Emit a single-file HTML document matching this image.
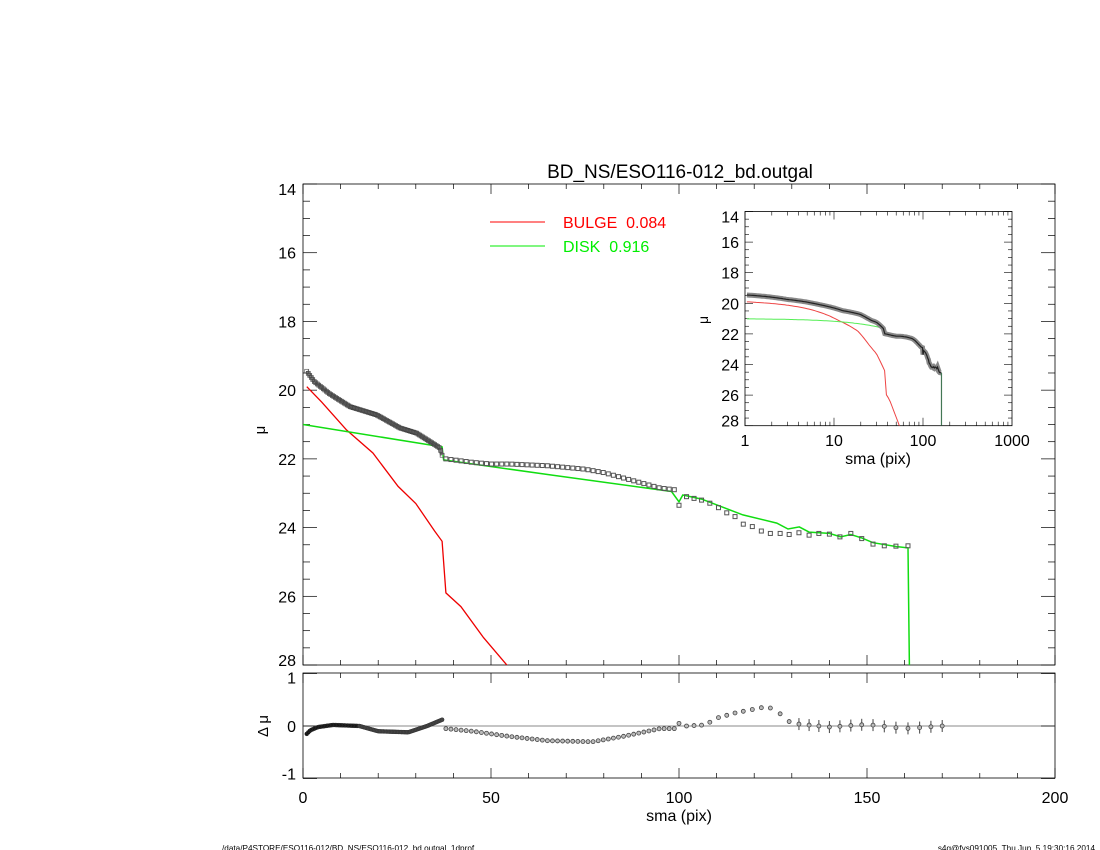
<!DOCTYPE html>
<html><head><meta charset="utf-8"><style>
body{margin:0;background:#fff;}
svg{display:block;font-family:"Liberation Sans",sans-serif;}
</style></head><body>
<svg id="s" width="1100" height="850" viewBox="0 0 1100 850" xmlns="http://www.w3.org/2000/svg">
<rect width="1100" height="850" fill="#fff"/>
<text x="680" y="178" font-size="19" text-anchor="middle">BD_NS/ESO116-012_bd.outgal</text>
<line x1="490" y1="222" x2="545" y2="222" stroke="#f00" stroke-width="1"/>
<text x="563" y="228" font-size="16" fill="#f00">BULGE&#160;&#160;0.084</text>
<line x1="490" y1="246" x2="545" y2="246" stroke="#0e0" stroke-width="1"/>
<text x="563" y="252" font-size="16" fill="#0e0">DISK&#160;&#160;0.916</text>
<text x="222" y="851" font-size="8.2">/data/P4STORE/ESO116-012/BD_NS/ESO116-012_bd.outgal_1dprof</text>
<text x="1095" y="851" font-size="8.2" text-anchor="end">s4g@fys091005&#160;&#160;Thu Jun&#160;&#160;5 19:30:16 2014</text>
<g id="g"></g>
</svg>
<script>
var g=document.getElementById('g'),h='';
function lerp(arr,x){if(x<=arr[0][0])return arr[0][1];for(var i=1;i<arr.length;i++){if(x<=arr[i][0]){var a=arr[i-1],b=arr[i];return a[1]+(b[1]-a[1])*(x-a[0])/(b[0]-a[0]);}}return arr[arr.length-1][1];}
var disk=[[0,21.0],[37,21.65],[37.4,22.03],[66,22.47],[98,22.95],[100,23.25],[101,23.05],[106,23.17],[117,23.63],[126,23.87],[129,24.04],[132,23.98],[134.6,24.13],[140,24.17],[143,24.27],[145.7,24.2],[148.6,24.3],[151.6,24.44],[157.7,24.55],[160.9,24.59],[161.3,28.3]];
var bulge=[[1,19.9],[5,20.35],[11.6,21.16],[18.6,21.83],[25.3,22.8],[30,23.3],[35,24.1],[37,24.4],[38,25.9],[42,26.3],[48,27.2],[55,28.1],[60,28.8]];
var obsIn=[[1,19.45],[3,19.75],[7,20.1],[12.5,20.48],[19.6,20.72],[25.8,21.1],[30.2,21.25],[36.4,21.68],[37.3,22.0]];
var obsOut=[[38,22.0],[45,22.1],[50,22.15],[55,22.15],[65,22.2],[75,22.3],[80,22.4],[85,22.55],[90,22.7],[95,22.85],[99,22.9],[100,23.35],[102,23.1],[104,23.15],[106,23.2],[108.2,23.29],[110.5,23.42],[112.7,23.57],[114.9,23.68],[117.1,23.9],[119.5,23.97],[121.9,24.1],[124.3,24.17],[126.9,24.17],[129.3,24.2],[131.9,24.15],[134.6,24.22],[137.2,24.17],[140,24.19],[142.8,24.27],[145.7,24.17],[148.6,24.32],[151.6,24.48],[154.6,24.53],[157.7,24.54],[160.9,24.53]];
var res=[[1,-0.15],[2,-0.08],[4,-0.02],[8,0.02],[15,0],[20,-0.1],[28,-0.12],[33,0.0],[37,0.12],[38,-0.05],[45,-0.1],[55,-0.2],[65,-0.28],[77,-0.3],[85,-0.2],[95,-0.05],[99,-0.05],[100,0.05],[102,0],[107,0.02],[110,0.15],[115,0.25],[122,0.35],[124,0.35],[126,0.3],[128,0.15],[130,0.05],[140,-0.02],[150,0.03],[160,-0.05],[170,0]];
function X(x){return 303+x*3.76}function Y(m){return 184+(m-14)*34.36}
var IT=211.5,IB=425.7;
function LX(x){return 745+Math.log10(x)*89}function LY(m){return IT+(m-14)*15.3}
function R(r){return 726-r*52.5}
function path(arr,fx,fy,col,w,clip){var d='';arr.forEach(function(p,i){d+=(i?'L':'M')+fx(p[0]).toFixed(1)+' '+fy(p[1]).toFixed(1);});h+='<path d="'+d+'" fill="none" stroke="'+col+'" stroke-width="'+w+'"'+(clip?' clip-path="url(#'+clip+')"':'')+'/>';}
h+='<defs><clipPath id="cm"><rect x="303" y="184" width="752" height="481"/></clipPath><clipPath id="ci"><rect x="745" y="'+IT+'" width="267" height="'+(IB-IT)+'"/></clipPath></defs>';
h+='<rect x="303" y="184" width="752" height="481" fill="none" stroke="#000" stroke-width="0.8"/>';
for(var x=0;x<=200;x+=10){var M=x%50==0,L=M?10:5;h+='<line x1="'+X(x)+'" y1="665" x2="'+X(x)+'" y2="'+(665-L)+'" stroke="#000" stroke-width="0.7"/><line x1="'+X(x)+'" y1="184" x2="'+X(x)+'" y2="'+(184+L)+'" stroke="#000" stroke-width="0.7"/>';}
for(var m=14;m<=28.01;m+=0.5){var M=Math.abs(m-Math.round(m/2)*2)<0.01,L=M?14:7;h+='<line x1="303" y1="'+Y(m)+'" x2="'+(303+L)+'" y2="'+Y(m)+'" stroke="#000" stroke-width="0.7"/><line x1="1055" y1="'+Y(m)+'" x2="'+(1055-L)+'" y2="'+Y(m)+'" stroke="#000" stroke-width="0.7"/>';if(M){var ty=Y(m)+6;if(m<14.5)ty=Y(m)+11;if(m>27.5)ty=Y(m)+1;h+='<text x="296" y="'+ty+'" font-size="16" text-anchor="end">'+Math.round(m)+'</text>';}}
h+='<text x="265" y="430" font-size="15" transform="rotate(-90 265 430)" text-anchor="middle">μ</text>';
path(bulge,X,Y,'#e00',1.3,'cm');
path(disk,X,Y,'#1d1',1.5,'cm');
var inpts=[];for(var x=1;x<=37.3;x+=0.4)inpts.push([x,lerp(obsIn,x)]);
path(inpts,X,Y,'#777',4,'cm');
inpts.forEach(function(p){h+='<rect x="'+(X(p[0])-2)+'" y="'+(Y(p[1])-2)+'" width="4" height="4" fill="none" stroke="#444" stroke-width="0.6"/>';});
var outp=[];for(var x=38;x<100;x+=1.35)outp.push([x,lerp(obsOut,x)]);obsOut.forEach(function(p){if(p[0]>=100)outp.push(p);});
outp.forEach(function(p){h+='<rect x="'+(X(p[0])-2)+'" y="'+(Y(p[1])-2)+'" width="4" height="4" fill="none" stroke="#555" stroke-width="1"/>';});
h+='<rect x="303" y="673" width="752" height="105" fill="none" stroke="#000" stroke-width="0.8"/>';
h+='<line x1="303" y1="726" x2="1055" y2="726" stroke="#888" stroke-width="1"/>';
for(var x=0;x<=200;x+=10){var M=x%50==0,L=M?10:5;h+='<line x1="'+X(x)+'" y1="778" x2="'+X(x)+'" y2="'+(778-L)+'" stroke="#000" stroke-width="0.7"/><line x1="'+X(x)+'" y1="673" x2="'+X(x)+'" y2="'+(673+L)+'" stroke="#000" stroke-width="0.7"/>';if(M)h+='<text x="'+X(x)+'" y="803" font-size="16" text-anchor="middle">'+x+'</text>';}
[[1,'1',10],[0,'0',6],[-1,'-1',1]].forEach(function(t){var y=R(t[0]);h+='<line x1="303" y1="'+y+'" x2="317" y2="'+y+'" stroke="#000" stroke-width="0.7"/><line x1="1055" y1="'+y+'" x2="1041" y2="'+y+'" stroke="#000" stroke-width="0.7"/><text x="296" y="'+(y+t[2])+'" font-size="16" text-anchor="end">'+t[1]+'</text>';});
h+='<text x="679" y="821" font-size="16" text-anchor="middle">sma (pix)</text>';
h+='<text x="268" y="726" font-size="15" transform="rotate(-90 268 726)" text-anchor="middle">Δ μ</text>';
for(var x=1;x<=37.3;x+=0.4){var y=R(lerp(res,x));h+='<circle cx="'+X(x)+'" cy="'+y+'" r="2" fill="'+(x<15?'#111':'#444')+'" stroke="#333" stroke-width="0.5"/>';}
var rx=[];for(var x=38;x<100;x+=1.35)rx.push(x);[100,102,104,106,108.2,110.5,112.7,114.9,117.1,119.5,121.9,124.3,126.9,129.3,131.9,134.6,137.2,140,142.8,145.7,148.6,151.6,154.6,157.7,160.9,164,167,170].forEach(function(v){rx.push(v);});
rx.forEach(function(x){var y=R(lerp(res,x)),e=x>130?6:2;if(x>130)h+='<line x1="'+X(x)+'" y1="'+(y-e)+'" x2="'+X(x)+'" y2="'+(y+e)+'" stroke="#444" stroke-width="1"/>';h+='<circle cx="'+X(x)+'" cy="'+y+'" r="2" fill="#bbb" stroke="#444" stroke-width="0.8"/>';});
h+='<rect x="745" y="'+IT+'" width="267" height="'+(IB-IT)+'" fill="#fff" stroke="#000" stroke-width="0.8"/>';
for(var dec=0;dec<3;dec++)for(var k=1;k<10;k++){var lx=745+(dec+Math.log10(k))*89,L=k==1?8:4;h+='<line x1="'+lx+'" y1="'+IB+'" x2="'+lx+'" y2="'+(IB-L)+'" stroke="#000" stroke-width="0.6"/><line x1="'+lx+'" y1="'+IT+'" x2="'+lx+'" y2="'+(IT+L)+'" stroke="#000" stroke-width="0.6"/>';}
[1,10,100,1000].forEach(function(v,i){h+='<text x="'+(745+i*89)+'" y="446" font-size="16" text-anchor="middle">'+v+'</text>';});
h+='<text x="878" y="464" font-size="16" text-anchor="middle">sma (pix)</text>';
for(var m=14;m<=28.01;m+=0.5){var M=Math.abs(m-Math.round(m/2)*2)<0.01,L=M?8:4,y=LY(m);h+='<line x1="745" y1="'+y+'" x2="'+(745+L)+'" y2="'+y+'" stroke="#000" stroke-width="0.6"/><line x1="1012" y1="'+y+'" x2="'+(1012-L)+'" y2="'+y+'" stroke="#000" stroke-width="0.6"/>';if(M){var ty=y+6;if(m<14.5)ty=y+11;if(m>27.5)ty=y+1;h+='<text x="739" y="'+ty+'" font-size="16" text-anchor="end">'+Math.round(m)+'</text>';}}
h+='<text x="708" y="320" font-size="14" transform="rotate(-90 708 320)" text-anchor="middle">μ</text>';
var bl=[];for(var x=1.05;x<=60;x*=1.05)bl.push([x,lerp(bulge,x)]);path(bl,LX,LY,'#e44',1,'ci');
var dl=[];for(var x=1.05;x<=37;x*=1.05)dl.push([x,lerp(disk,x)]);path(dl,LX,LY,'#5e5',1,'ci');
var all=[];for(var x=1.05;x<37.3;x*=1.04)all.push([x,lerp(obsIn,x)]);outp.forEach(function(p){all.push(p);});
path(all,LX,LY,'#888',5,'ci');path(all,LX,LY,'#222',1.2,'ci');
h+='<line x1="'+LX(161.3)+'" y1="'+LY(24.55)+'" x2="'+LX(161.3)+'" y2="'+IB+'" stroke="#475" stroke-width="1.2"/>';
g.innerHTML=h;
</script>
</body></html>
